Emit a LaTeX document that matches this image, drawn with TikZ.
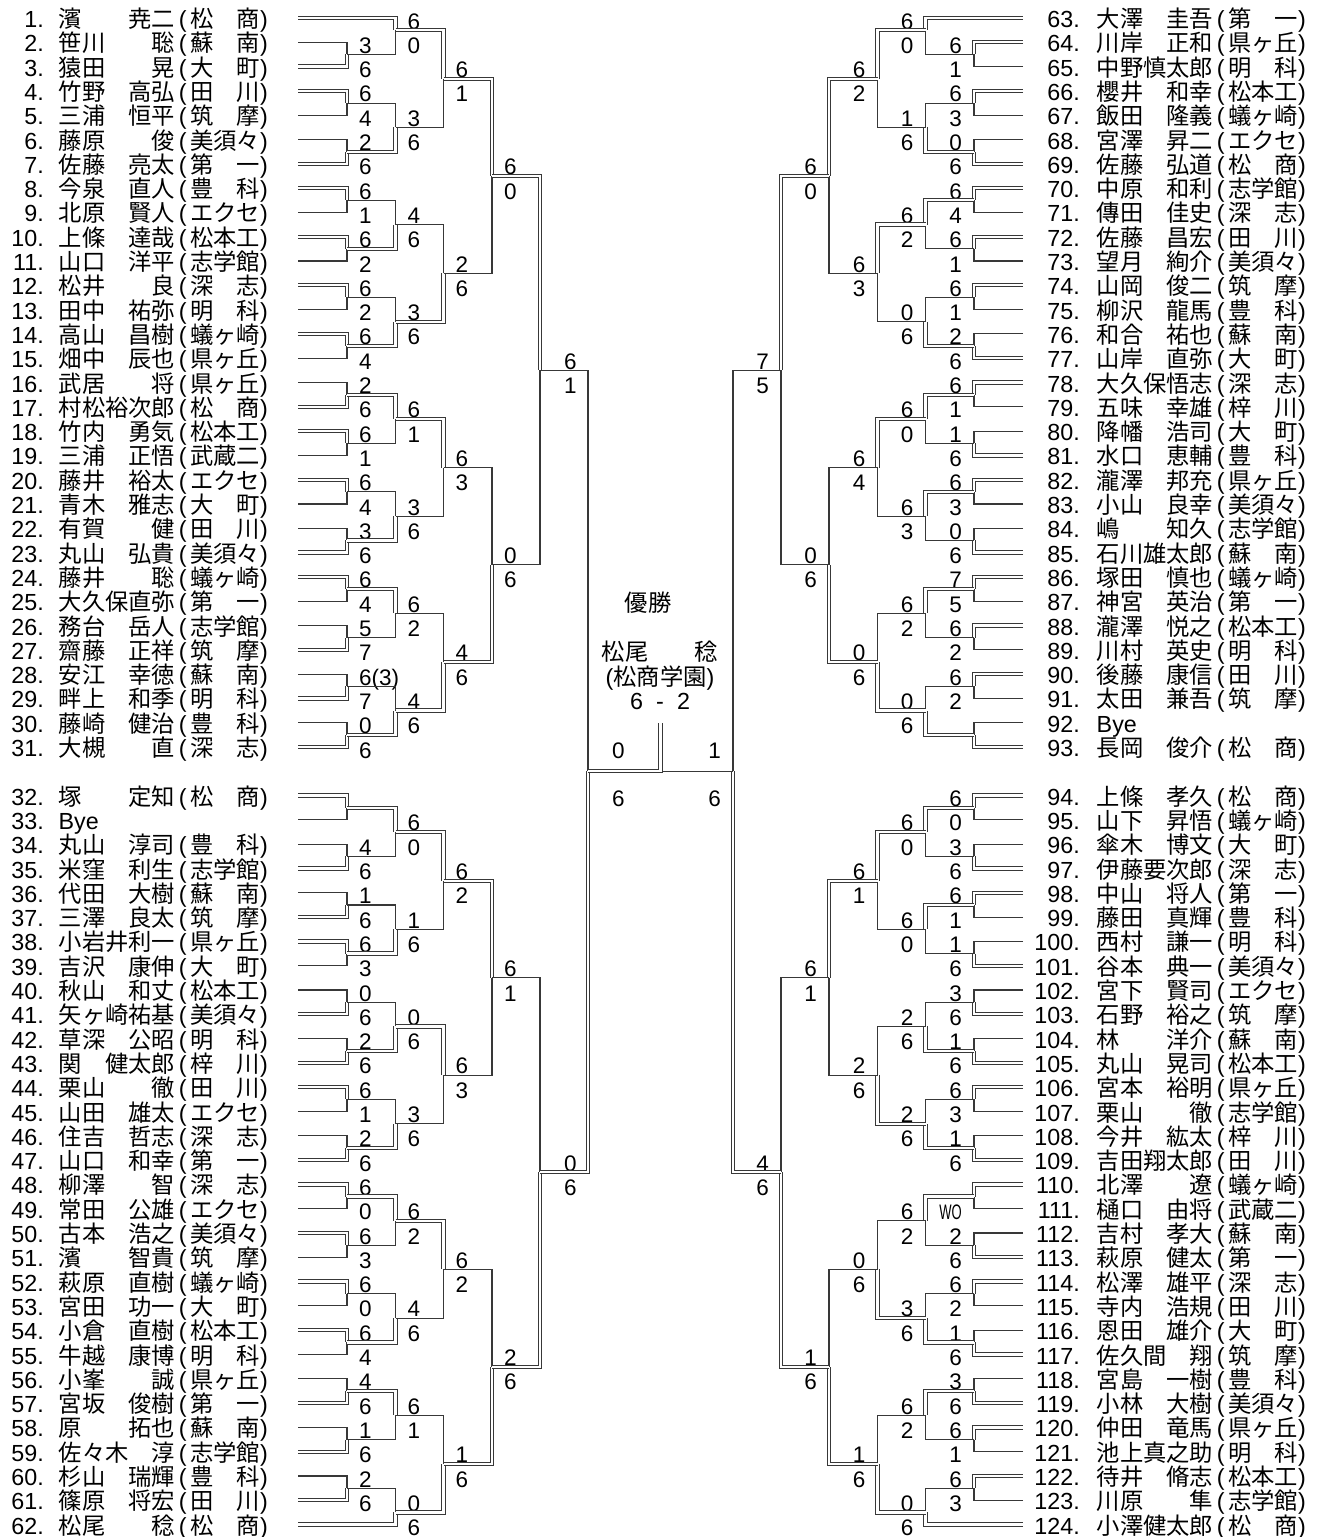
\documentclass[tikz,border=0pt]{standalone}
\usepackage{fontspec}
\setmainfont{Liberation Sans}
\newfontfamily\cjk{Noto Sans CJK JP}
\usepackage{graphicx}
\tikzset{
  lose/.style={draw=black!78, line width=1.1pt},
  win/.style={draw=black!78, line width=1.0pt, double=white, double distance=2.3pt},
  score/.style={font=\fontsize{22.5}{22.5}\selectfont, inner sep=0pt},
  lab/.style={score, anchor=base west},
  txt/.style={font=\fontsize{23.3}{24}\selectfont, inner sep=0pt},
}
\newcommand\Mtch[9]{%
 \pgfmathsetmacro\Mmm{floor(((#3)+(#5))/2)+0.5}%
 \pgfmathsetmacro\Mya{18+24.3*(#3)}%
 \pgfmathsetmacro\Myb{18+24.3*(#5)}%
 \pgfmathsetmacro\Mym{18+24.3*\Mmm}%
 \pgfmathsetmacro\Mlu{18+24.3*(\Mmm-0.5)+11}%
 \pgfmathsetmacro\Mll{\Mlu+24.3}%
 \ifnum#6=1
  \draw[lose] (#4,\Myb) -- (#1,\Myb) -- (#1,\Mym);
  \draw[win] (#2,\Mya) -- (#1,\Mya) -- (#1,\Mym);
 \else
  \draw[lose] (#2,\Mya) -- (#1,\Mya) -- (#1,\Mym);
  \draw[win] (#4,\Myb) -- (#1,\Myb) -- (#1,\Mym);
 \fi
 \node[lab] at (#9,\Mlu) {#7};
 \node[lab] at (#9,\Mll) {#8};
}
\newcommand\Mt[5]{\Mtch{\colX}{\colF}{#1}{\colF}{#2}{#3}{#4}{#5}{\labX}}
\newcommand\PL[6]{%
 \pgfmathsetmacro\Py{18+24.3*(#3)+9.5}%
 \node[txt,anchor=base east] (n#4) at (#1,\Py) {#4.};
 \node[txt,anchor=base west] (p#4) at (#2,\Py) {\makebox[116.5pt][l]{\cjk #5}\makebox[15pt][c]{(}\makebox[70pt][l]{\cjk #6})};
}
\newcommand\BYE[4]{%
 \pgfmathsetmacro\Py{18+24.3*(#3)+9.5}%
 \node[txt,anchor=base east] (n#4) at (#1,\Py) {#4.};
 \node[txt,anchor=base west] (p#4) at (#2,\Py) {Bye};
}
\newcommand\wo{\scalebox{0.62}[1]{\fontsize{21}{21}\selectfont WO}}
\begin{document}
\begin{tikzpicture}[x=1pt,y=-1pt]
\useasboundingbox (0,0) rectangle (1317,1537);
% ---------------- players, left
\PL{44}{58.5}{0}{1}{濱　　尭二}{松　商}
\PL{44}{58.5}{1}{2}{笹川　　聡}{蘇　南}
\PL{44}{58.5}{2}{3}{猿田　　晃}{大　町}
\PL{44}{58.5}{3}{4}{竹野　高弘}{田　川}
\PL{44}{58.5}{4}{5}{三浦　恒平}{筑　摩}
\PL{44}{58.5}{5}{6}{藤原　　俊}{美須々}
\PL{44}{58.5}{6}{7}{佐藤　亮太}{第　一}
\PL{44}{58.5}{7}{8}{今泉　直人}{豊　科}
\PL{44}{58.5}{8}{9}{北原　賢人}{エクセ}
\PL{44}{58.5}{9}{10}{上條　達哉}{松本工}
\PL{44}{58.5}{10}{11}{山口　洋平}{志学館}
\PL{44}{58.5}{11}{12}{松井　　良}{深　志}
\PL{44}{58.5}{12}{13}{田中　祐弥}{明　科}
\PL{44}{58.5}{13}{14}{高山　昌樹}{蟻ヶ崎}
\PL{44}{58.5}{14}{15}{畑中　辰也}{県ヶ丘}
\PL{44}{58.5}{15}{16}{武居　　将}{県ヶ丘}
\PL{44}{58.5}{16}{17}{村松裕次郎}{松　商}
\PL{44}{58.5}{17}{18}{竹内　勇気}{松本工}
\PL{44}{58.5}{18}{19}{三浦　正悟}{武蔵二}
\PL{44}{58.5}{19}{20}{藤井　裕太}{エクセ}
\PL{44}{58.5}{20}{21}{青木　雅志}{大　町}
\PL{44}{58.5}{21}{22}{有賀　　健}{田　川}
\PL{44}{58.5}{22}{23}{丸山　弘貴}{美須々}
\PL{44}{58.5}{23}{24}{藤井　　聡}{蟻ヶ崎}
\PL{44}{58.5}{24}{25}{大久保直弥}{第　一}
\PL{44}{58.5}{25}{26}{務台　岳人}{志学館}
\PL{44}{58.5}{26}{27}{齋藤　正祥}{筑　摩}
\PL{44}{58.5}{27}{28}{安江　幸徳}{蘇　南}
\PL{44}{58.5}{28}{29}{畔上　和季}{明　科}
\PL{44}{58.5}{29}{30}{藤崎　健治}{豊　科}
\PL{44}{58.5}{30}{31}{大槻　　直}{深　志}
\PL{44}{58.5}{32}{32}{塚　　定知}{松　商}
\BYE{44}{58.5}{33}{33}
\PL{44}{58.5}{34}{34}{丸山　淳司}{豊　科}
\PL{44}{58.5}{35}{35}{米窪　利生}{志学館}
\PL{44}{58.5}{36}{36}{代田　大樹}{蘇　南}
\PL{44}{58.5}{37}{37}{三澤　良太}{筑　摩}
\PL{44}{58.5}{38}{38}{小岩井利一}{県ヶ丘}
\PL{44}{58.5}{39}{39}{吉沢　康伸}{大　町}
\PL{44}{58.5}{40}{40}{秋山　和丈}{松本工}
\PL{44}{58.5}{41}{41}{矢ヶ崎祐基}{美須々}
\PL{44}{58.5}{42}{42}{草深　公昭}{明　科}
\PL{44}{58.5}{43}{43}{関　健太郎}{梓　川}
\PL{44}{58.5}{44}{44}{栗山　　徹}{田　川}
\PL{44}{58.5}{45}{45}{山田　雄太}{エクセ}
\PL{44}{58.5}{46}{46}{住吉　哲志}{深　志}
\PL{44}{58.5}{47}{47}{山口　和幸}{第　一}
\PL{44}{58.5}{48}{48}{柳澤　　智}{深　志}
\PL{44}{58.5}{49}{49}{常田　公雄}{エクセ}
\PL{44}{58.5}{50}{50}{古本　浩之}{美須々}
\PL{44}{58.5}{51}{51}{濱　　智貴}{筑　摩}
\PL{44}{58.5}{52}{52}{萩原　直樹}{蟻ヶ崎}
\PL{44}{58.5}{53}{53}{宮田　功一}{大　町}
\PL{44}{58.5}{54}{54}{小倉　直樹}{松本工}
\PL{44}{58.5}{55}{55}{牛越　康博}{明　科}
\PL{44}{58.5}{56}{56}{小峯　　誠}{県ヶ丘}
\PL{44}{58.5}{57}{57}{宮坂　俊樹}{第　一}
\PL{44}{58.5}{58}{58}{原　　拓也}{蘇　南}
\PL{44}{58.5}{59}{59}{佐々木　淳}{志学館}
\PL{44}{58.5}{60}{60}{杉山　瑞輝}{豊　科}
\PL{44}{58.5}{61}{61}{篠原　将宏}{田　川}
\PL{44}{58.5}{62}{62}{松尾　　稔}{松　商}
% ---------------- players, right
\PL{1080}{1096.5}{0}{63}{大澤　圭吾}{第　一}
\PL{1080}{1096.5}{1}{64}{川岸　正和}{県ヶ丘}
\PL{1080}{1096.5}{2}{65}{中野慎太郎}{明　科}
\PL{1080}{1096.5}{3}{66}{櫻井　和幸}{松本工}
\PL{1080}{1096.5}{4}{67}{飯田　隆義}{蟻ヶ崎}
\PL{1080}{1096.5}{5}{68}{宮澤　昇二}{エクセ}
\PL{1080}{1096.5}{6}{69}{佐藤　弘道}{松　商}
\PL{1080}{1096.5}{7}{70}{中原　和利}{志学館}
\PL{1080}{1096.5}{8}{71}{傳田　佳史}{深　志}
\PL{1080}{1096.5}{9}{72}{佐藤　昌宏}{田　川}
\PL{1080}{1096.5}{10}{73}{望月　絢介}{美須々}
\PL{1080}{1096.5}{11}{74}{山岡　俊二}{筑　摩}
\PL{1080}{1096.5}{12}{75}{柳沢　龍馬}{豊　科}
\PL{1080}{1096.5}{13}{76}{和合　祐也}{蘇　南}
\PL{1080}{1096.5}{14}{77}{山岸　直弥}{大　町}
\PL{1080}{1096.5}{15}{78}{大久保悟志}{深　志}
\PL{1080}{1096.5}{16}{79}{五味　幸雄}{梓　川}
\PL{1080}{1096.5}{17}{80}{降幡　浩司}{大　町}
\PL{1080}{1096.5}{18}{81}{水口　恵輔}{豊　科}
\PL{1080}{1096.5}{19}{82}{瀧澤　邦充}{県ヶ丘}
\PL{1080}{1096.5}{20}{83}{小山　良幸}{美須々}
\PL{1080}{1096.5}{21}{84}{嶋　　知久}{志学館}
\PL{1080}{1096.5}{22}{85}{石川雄太郎}{蘇　南}
\PL{1080}{1096.5}{23}{86}{塚田　慎也}{蟻ヶ崎}
\PL{1080}{1096.5}{24}{87}{神宮　英治}{第　一}
\PL{1080}{1096.5}{25}{88}{瀧澤　悦之}{松本工}
\PL{1080}{1096.5}{26}{89}{川村　英史}{明　科}
\PL{1080}{1096.5}{27}{90}{後藤　康信}{田　川}
\PL{1080}{1096.5}{28}{91}{太田　兼吾}{筑　摩}
\BYE{1080}{1096.5}{29}{92}
\PL{1080}{1096.5}{30}{93}{長岡　俊介}{松　商}
\PL{1080}{1096.5}{32}{94}{上條　孝久}{松　商}
\PL{1080}{1096.5}{33}{95}{山下　昇悟}{蟻ヶ崎}
\PL{1080}{1096.5}{34}{96}{傘木　博文}{大　町}
\PL{1080}{1096.5}{35}{97}{伊藤要次郎}{深　志}
\PL{1080}{1096.5}{36}{98}{中山　将人}{第　一}
\PL{1080}{1096.5}{37}{99}{藤田　真輝}{豊　科}
\PL{1080}{1096.5}{38}{100}{西村　謙一}{明　科}
\PL{1080}{1096.5}{39}{101}{谷本　典一}{美須々}
\PL{1080}{1096.5}{40}{102}{宮下　賢司}{エクセ}
\PL{1080}{1096.5}{41}{103}{石野　裕之}{筑　摩}
\PL{1080}{1096.5}{42}{104}{林　　洋介}{蘇　南}
\PL{1080}{1096.5}{43}{105}{丸山　晃司}{松本工}
\PL{1080}{1096.5}{44}{106}{宮本　裕明}{県ヶ丘}
\PL{1080}{1096.5}{45}{107}{栗山　　徹}{志学館}
\PL{1080}{1096.5}{46}{108}{今井　紘太}{梓　川}
\PL{1080}{1096.5}{47}{109}{吉田翔太郎}{田　川}
\PL{1080}{1096.5}{48}{110}{北澤　　遼}{蟻ヶ崎}
\PL{1080}{1096.5}{49}{111}{樋口　由将}{武蔵二}
\PL{1080}{1096.5}{50}{112}{吉村　孝大}{蘇　南}
\PL{1080}{1096.5}{51}{113}{萩原　健太}{第　一}
\PL{1080}{1096.5}{52}{114}{松澤　雄平}{深　志}
\PL{1080}{1096.5}{53}{115}{寺内　浩規}{田　川}
\PL{1080}{1096.5}{54}{116}{恩田　雄介}{大　町}
\PL{1080}{1096.5}{55}{117}{佐久間　翔}{筑　摩}
\PL{1080}{1096.5}{56}{118}{宮島　一樹}{豊　科}
\PL{1080}{1096.5}{57}{119}{小林　大樹}{美須々}
\PL{1080}{1096.5}{58}{120}{仲田　竜馬}{県ヶ丘}
\PL{1080}{1096.5}{59}{121}{池上真之助}{明　科}
\PL{1080}{1096.5}{60}{122}{待井　脩志}{松本工}
\PL{1080}{1096.5}{61}{123}{川原　　隼}{志学館}
\PL{1080}{1096.5}{62}{124}{小澤健太郎}{松　商}
% ================= LEFT bracket
\tikzset{lab/.style={score,anchor=base west}}
% Q1 R1
\def\colF{298}\def\colX{347}\def\labX{359}
\Mt{1}{2}{2}{3}{6}
\Mt{3}{4}{1}{6}{4}
\Mt{5}{6}{2}{2}{6}
\Mt{7}{8}{1}{6}{1}
\Mt{9}{10}{1}{6}{2}
\Mt{11}{12}{1}{6}{2}
\Mt{13}{14}{1}{6}{4}
\Mt{15}{16}{2}{2}{6}
\Mt{17}{18}{1}{6}{1}
\Mt{19}{20}{1}{6}{4}
\Mt{21}{22}{2}{3}{6}
\Mt{23}{24}{1}{6}{4}
\Mt{25}{26}{2}{5}{7}
\Mt{27}{28}{2}{6(3)}{7}
\Mt{29}{30}{2}{0}{6}
% Q1 R2
\def\colF{347}\def\colX{395.5}\def\labX{407.5}
\Mtch{395.5}{298}{0}{347}{1.5}{1}{6}{0}{407.5}
\Mt{3.5}{5.5}{2}{3}{6}
\Mt{7.5}{9.5}{2}{4}{6}
\Mt{11.5}{13.5}{2}{3}{6}
\Mt{15.5}{17.5}{1}{6}{1}
\Mt{19.5}{21.5}{2}{3}{6}
\Mt{23.5}{25.5}{1}{6}{2}
\Mt{27.5}{29.5}{2}{4}{6}
% Q1 R3
\def\colF{395.5}\def\colX{443.5}\def\labX{455.5}
\Mt{0.5}{4.5}{1}{6}{1}
\Mt{8.5}{12.5}{2}{2}{6}
\Mt{16.5}{20.5}{1}{6}{3}
\Mt{24.5}{28.5}{2}{4}{6}
% Q1 R4
\def\colF{443.5}\def\colX{492}\def\labX{504}
\Mt{2.5}{10.5}{1}{6}{0}
\Mt{18.5}{26.5}{2}{0}{6}
% Q1 QF
\def\colF{492}\def\colX{540}\def\labX{564}
\Mt{6.5}{22.5}{1}{6}{1}
% Q2 R1
\def\colF{298}\def\colX{347}\def\labX{359}
\Mt{32}{33}{1}{}{}
\Mt{34}{35}{2}{4}{6}
\Mt{36}{37}{2}{1}{6}
\Mt{38}{39}{1}{6}{3}
\Mt{40}{41}{2}{0}{6}
\Mt{42}{43}{2}{2}{6}
\Mt{44}{45}{1}{6}{1}
\Mt{46}{47}{2}{2}{6}
\Mt{48}{49}{1}{6}{0}
\Mt{50}{51}{1}{6}{3}
\Mt{52}{53}{1}{6}{0}
\Mt{54}{55}{1}{6}{4}
\Mt{56}{57}{2}{4}{6}
\Mt{58}{59}{2}{1}{6}
\Mt{60}{61}{2}{2}{6}
% Q2 R2
\def\colF{347}\def\colX{395.5}\def\labX{407.5}
\Mt{32.5}{34.5}{1}{6}{0}
\Mt{36.5}{38.5}{2}{1}{6}
\Mt{40.5}{42.5}{2}{0}{6}
\Mt{44.5}{46.5}{2}{3}{6}
\Mt{48.5}{50.5}{1}{6}{2}
\Mt{52.5}{54.5}{2}{4}{6}
\Mt{56.5}{58.5}{1}{6}{1}
\Mtch{395.5}{347}{60.5}{298}{62}{2}{0}{6}{407.5}
% Q2 R3
\def\colF{395.5}\def\colX{443.5}\def\labX{455.5}
\Mt{33.5}{37.5}{1}{6}{2}
\Mt{41.5}{45.5}{1}{6}{3}
\Mt{49.5}{53.5}{1}{6}{2}
\Mt{57.5}{61.5}{2}{1}{6}
% Q2 R4
\def\colF{443.5}\def\colX{492}\def\labX{504}
\Mt{35.5}{43.5}{1}{6}{1}
\Mt{51.5}{59.5}{2}{2}{6}
% Q2 QF
\def\colF{492}\def\colX{540}\def\labX{564}
\Mt{39.5}{55.5}{2}{0}{6}
% left semifinal
\coordinate (sfL) at (588,771.3);
\coordinate (fin) at (660.5,771.3);
\coordinate (sfR) at (733,771.3);
\draw[lose] (540,370.35) -- (588,370.35) -- (sfL);
\draw[win] (540,1172.25) -- (588,1172.25) -- (sfL);
\node[lab] (sfl1) at (612,758) {0};
\node[lab] (sfl2) at (612,806.6) {6};
% ================= RIGHT bracket
\tikzset{lab/.style={score,anchor=base east}}
% Q3 R1
\def\colF{1023}\def\colX{974}\def\labX{962}
\Mt{1}{2}{1}{6}{1}
\Mt{3}{4}{1}{6}{3}
\Mt{5}{6}{2}{0}{6}
\Mt{7}{8}{1}{6}{4}
\Mt{9}{10}{1}{6}{1}
\Mt{11}{12}{1}{6}{1}
\Mt{13}{14}{2}{2}{6}
\Mt{15}{16}{1}{6}{1}
\Mt{17}{18}{2}{1}{6}
\Mt{19}{20}{1}{6}{3}
\Mt{21}{22}{2}{0}{6}
\Mt{23}{24}{1}{7}{5}
\Mt{25}{26}{1}{6}{2}
\Mt{27}{28}{1}{6}{2}
\Mt{29}{30}{2}{}{}
% Q3 R2
\def\colF{974}\def\colX{925.5}\def\labX{913.5}
\Mtch{925.5}{1023}{0}{974}{1.5}{1}{6}{0}{913.5}
\Mt{3.5}{5.5}{2}{1}{6}
\Mt{7.5}{9.5}{1}{6}{2}
\Mt{11.5}{13.5}{2}{0}{6}
\Mt{15.5}{17.5}{1}{6}{0}
\Mt{19.5}{21.5}{1}{6}{3}
\Mt{23.5}{25.5}{1}{6}{2}
\Mt{27.5}{29.5}{2}{0}{6}
% Q3 R3
\def\colF{925.5}\def\colX{877.5}\def\labX{865.5}
\Mt{0.5}{4.5}{1}{6}{2}
\Mt{8.5}{12.5}{1}{6}{3}
\Mt{16.5}{20.5}{1}{6}{4}
\Mt{24.5}{28.5}{2}{0}{6}
% Q3 R4
\def\colF{877.5}\def\colX{829}\def\labX{817}
\Mt{2.5}{10.5}{1}{6}{0}
\Mt{18.5}{26.5}{2}{0}{6}
% Q3 QF
\def\colF{829}\def\colX{781}\def\labX{769}
\Mt{6.5}{22.5}{1}{7}{5}
% Q4 R1
\def\colF{1023}\def\colX{974}\def\labX{962}
\Mt{32}{33}{1}{6}{0}
\Mt{34}{35}{2}{3}{6}
\Mt{36}{37}{1}{6}{1}
\Mt{38}{39}{2}{1}{6}
\Mt{40}{41}{2}{3}{6}
\Mt{42}{43}{2}{1}{6}
\Mt{44}{45}{1}{6}{3}
\Mt{46}{47}{2}{1}{6}
\Mt{48}{49}{1}{}{\wo}
\Mt{50}{51}{2}{2}{6}
\Mt{52}{53}{1}{6}{2}
\Mt{54}{55}{2}{1}{6}
\Mt{56}{57}{2}{3}{6}
\Mt{58}{59}{1}{6}{1}
\Mt{60}{61}{1}{6}{3}
% Q4 R2
\def\colF{974}\def\colX{925.5}\def\labX{913.5}
\Mt{32.5}{34.5}{1}{6}{0}
\Mt{36.5}{38.5}{1}{6}{0}
\Mt{40.5}{42.5}{2}{2}{6}
\Mt{44.5}{46.5}{2}{2}{6}
\Mt{48.5}{50.5}{1}{6}{2}
\Mt{52.5}{54.5}{2}{3}{6}
\Mt{56.5}{58.5}{1}{6}{2}
\Mtch{925.5}{974}{60.5}{1023}{62}{2}{0}{6}{913.5}
% Q4 R3
\def\colF{925.5}\def\colX{877.5}\def\labX{865.5}
\Mt{33.5}{37.5}{1}{6}{1}
\Mt{41.5}{45.5}{2}{2}{6}
\Mt{49.5}{53.5}{2}{0}{6}
\Mt{57.5}{61.5}{2}{1}{6}
% Q4 R4
\def\colF{877.5}\def\colX{829}\def\labX{817}
\Mt{35.5}{43.5}{1}{6}{1}
\Mt{51.5}{59.5}{2}{1}{6}
% Q4 QF
\def\colF{829}\def\colX{781}\def\labX{769}
\Mt{39.5}{55.5}{2}{4}{6}
% right semifinal
\draw[lose] (781,370.35) -- (733,370.35) -- (sfR);
\draw[win] (781,1172.25) -- (733,1172.25) -- (sfR);
\node[lab] (sfr1) at (721,758) {1};
\node[lab] (sfr2) at (721,806.6) {6};
% final
\coordinate (champ) at (660.5,723);
\draw[lose] (sfR) -- (fin);
\draw[win] (sfL) -- (fin) -- (champ);
\node[txt] (title) at (648,603) {\cjk 優勝};
\node[txt] (wname) at (660,652) {\cjk 松尾　　稔};
\node[txt] (wschool) at (660,678) {(\cjk 松商学園\normalfont)};
\node[txt] (wscore) at (660,701) {\makebox[60pt]{6\hfill-\hfill2}};
\end{tikzpicture}
\end{document}
